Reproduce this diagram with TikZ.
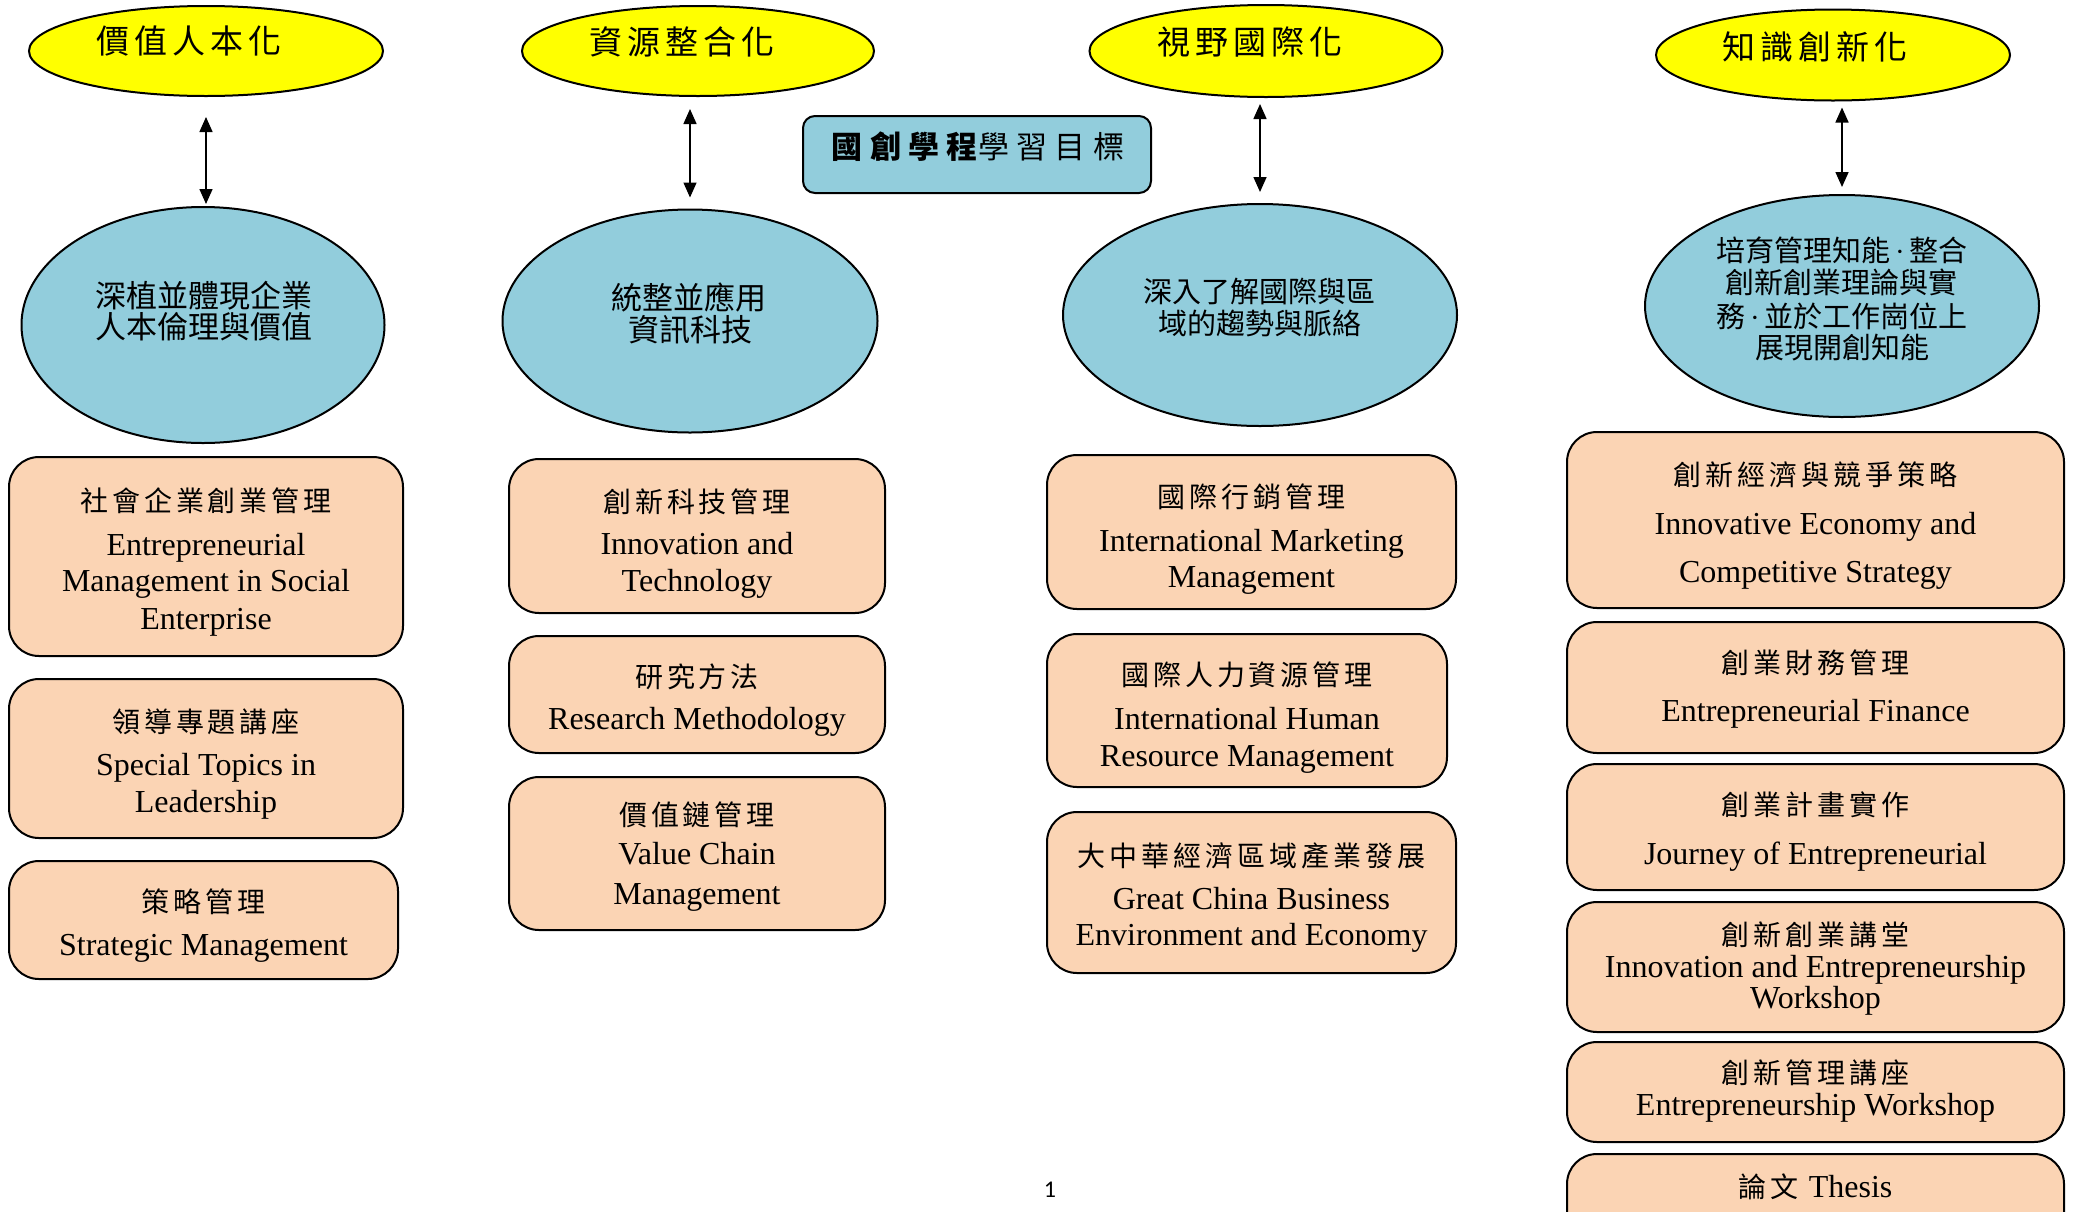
\documentclass[tikz,border=0pt]{standalone}
\usepackage{fontspec}
\setmainfont{Liberation Serif}
\newfontfamily\zhA{Noto Sans CJK TC}[LetterSpace=14]
\newfontfamily\zhB{Noto Sans CJK TC}
\newfontfamily\zhY{Noto Sans CJK TC}[LetterSpace=15]
\newfontfamily\zhT{Noto Sans CJK TC}[LetterSpace=24]
\newfontfamily\pgnum{Carlito}
\usetikzlibrary{shapes.geometric,arrows.meta}
\definecolor{yelc}{HTML}{FFFF00}
\definecolor{bluc}{HTML}{92CDDC}
\definecolor{orac}{HTML}{FBD4B4}
\tikzset{
  every node/.style={inner sep=0pt, outer sep=0pt},
  yel/.style={ellipse, draw, fill=yelc, line width=2pt},
  blu/.style={ellipse, draw, fill=bluc, line width=2pt},
  crs/.style={rectangle, rounded corners=30pt, draw, fill=orac, line width=2pt},
  ttl/.style={rectangle, rounded corners=12pt, draw, fill=bluc, line width=2pt},
  dbl/.style={{Triangle[length=15pt,width=13pt]}-{Triangle[length=15pt,width=13pt]}, line width=1.5pt},
  en/.style={font=\fontsize{32}{36}\selectfont, text height=21pt, text depth=0pt},
  zh/.style={font=\zhA\fontsize{28}{32}\selectfont, text height=23pt, text depth=2pt},
  yt/.style={font=\zhY\fontsize{33}{36}\selectfont, text height=27pt, text depth=2pt},
  bt/.style={font=\zhB\fontsize{31}{34}\selectfont, text height=26pt, text depth=2pt},
  bs/.style={font=\zhB\fontsize{29}{32}\selectfont, text height=24pt, text depth=2pt},
  tt/.style={font=\zhT\fontsize{31}{34}\selectfont, text height=26pt, text depth=2pt},
}
\newcommand{\mdot}{{\rmfamily\,·\,}}
\begin{document}
\begin{tikzpicture}[x=1pt,y=-1pt]
\useasboundingbox (0,0) rectangle (2076,1211);
\clip (0,0) rectangle (2076,1211);
\fill[white] (0,0) rectangle (2076,1211);

% goals (yellow)
\node[yel, minimum width=354pt, minimum height=90pt] (y1) at (206,51) {};
\node[yel, minimum width=352pt, minimum height=90pt] (y2) at (698,51) {};
\node[yel, minimum width=353pt, minimum height=92pt] (y3) at (1266,51) {};
\node[yel, minimum width=354pt, minimum height=91pt] (y4) at (1833,55) {};
\node[yt] (y1t) at (189,41) {價值人本化};
\node[yt] (y2t) at (682,42) {資源整合化};
\node[yt] (y3t) at (1250,42) {視野國際化};
\node[yt] (y4t) at (1815,47) {知識創新化};

% objectives (blue)
\node[blu, minimum width=363pt, minimum height=236pt] (b1) at (203,325) {};
\node[blu, minimum width=375pt, minimum height=223pt] (b2) at (690,321) {};
\node[blu, minimum width=394pt, minimum height=222pt] (b3) at (1260,315) {};
\node[blu, minimum width=394pt, minimum height=222pt] (b4) at (1842,306) {};
\node[bt] (b1a) at (203.5,295) {深植並體現企業};
\node[bt] (b1b) at (203.5,326) {人本倫理與價值};
\node[bt] (b2a) at (689,297) {統整並應用};
\node[bt] (b2b) at (690,329.5) {資訊科技};
\node[bs] (b3a) at (1259,291) {深入了解國際與區};
\node[bs] (b3b) at (1260,323.5) {域的趨勢與脈絡};
\node[bs] (b4a) at (1842,250) {培育管理知能\mdot 整合};
\node[bs] (b4b) at (1841,282.5) {創新創業理論與實};
\node[bs] (b4c) at (1842,316) {務\mdot 並於工作崗位上};
\node[bs] (b4d) at (1842,347) {展現開創知能};

% arrows
\draw[dbl, shorten <=21pt, shorten >=3pt] (y1.south) -- (y1.south |- b1.north);
\draw[dbl, shorten <=13pt, shorten >=12pt] (b2.north |- y2.south) -- (b2.north);
\draw[dbl, shorten <=7pt, shorten >=12pt] (b3.north |- y3.south) -- (b3.north);
\draw[dbl, shorten <=7pt, shorten >=8pt] (b4.north |- y4.south) -- (b4.north);

% title
\node[ttl, minimum width=348pt, minimum height=77pt] (title) at (977,154.5) {};
\node[tt] (titlet) at (978,146) {{\bfseries 國創學程}學習目標};

% column A
\node[crs, minimum width=394pt, minimum height=199pt] (a1) at (206,556.5) {};
\node[zh] (a1a) at (206,501) {社會企業創業管理};
\node[en] (a1b) at (206,545) {Entrepreneurial};
\node[en] (a1c) at (206,581) {Management in Social};
\node[en] (a1d) at (206,619) {Enterprise};
\node[crs, minimum width=394pt, minimum height=159pt] (a2) at (206,758.5) {};
\node[zh] (a2a) at (206,722) {領導專題講座};
\node[en] (a2b) at (206,765) {Special Topics in};
\node[en] (a2c) at (206,802) {Leadership};
\node[crs, minimum width=389pt, minimum height=118pt] (a3) at (203.5,920) {};
\node[zh] (a3a) at (203.5,902) {策略管理};
\node[en] (a3b) at (203.5,945) {Strategic Management};

% column B
\node[crs, minimum width=376pt, minimum height=154pt] (bb1) at (697,536) {};
\node[zh] (bb1a) at (697,502) {創新科技管理};
\node[en] (bb1b) at (697,544) {Innovation and};
\node[en] (bb1c) at (697,581) {Technology};
\node[crs, minimum width=376pt, minimum height=117pt] (bb2) at (697,694.5) {};
\node[zh] (bb2a) at (697,677) {研究方法};
\node[en] (bb2b) at (697,719) {Research Methodology};
\node[crs, minimum width=376pt, minimum height=153pt] (bb3) at (697,853.5) {};
\node[zh] (bb3a) at (697,815) {價值鏈管理};
\node[en] (bb3b) at (697,854) {Value Chain};
\node[en] (bb3c) at (697,893.5) {Management};

% column C
\node[crs, minimum width=409pt, minimum height=154pt] (c1) at (1251.5,532) {};
\node[zh] (c1a) at (1251.5,497) {國際行銷管理};
\node[en] (c1b) at (1251.5,541) {International Marketing};
\node[en] (c1c) at (1251.5,577) {Management};
\node[crs, minimum width=400pt, minimum height=153pt] (c2) at (1247,710.5) {};
\node[zh] (c2a) at (1247,675) {國際人力資源管理};
\node[en] (c2b) at (1247,719) {International Human};
\node[en] (c2c) at (1247,756) {Resource Management};
\node[crs, minimum width=409pt, minimum height=161pt] (c3) at (1251.5,892.5) {};
\node[zh] (c3a) at (1251.5,856) {大中華經濟區域產業發展};
\node[en] (c3b) at (1251.5,899) {Great China Business};
\node[en] (c3c) at (1251.5,935) {Environment and Economy};

% column D
\node[crs, minimum width=497pt, minimum height=176pt] (d1) at (1815.5,520) {};
\node[zh] (d1a) at (1815.5,475) {創新經濟與競爭策略};
\node[en] (d1b) at (1815.5,524) {Innovative Economy and};
\node[en] (d1c) at (1815.5,572) {Competitive Strategy};
\node[crs, minimum width=497pt, minimum height=131pt] (d2) at (1815.5,687.5) {};
\node[zh] (d2a) at (1815.5,663) {創業財務管理};
\node[en] (d2b) at (1815.5,711) {Entrepreneurial Finance};
\node[crs, minimum width=497pt, minimum height=126pt] (d3) at (1815.5,827) {};
\node[zh] (d3a) at (1815.5,805) {創業計畫實作};
\node[en] (d3b) at (1815.5,854) {Journey of Entrepreneurial};
\node[crs, minimum width=497pt, minimum height=130pt] (d4) at (1815.5,967) {};
\node[zh] (d4a) at (1815.5,935) {創新創業講堂};
\node[en] (d4b) at (1815.5,967) {Innovation and Entrepreneurship};
\node[en] (d4c) at (1815.5,998) {Workshop};
\node[crs, minimum width=497pt, minimum height=100pt] (d5) at (1815.5,1092) {};
\node[zh] (d5a) at (1815.5,1073) {創新管理講座};
\node[en] (d5b) at (1815.5,1105) {Entrepreneurship Workshop};
\node[crs, minimum width=497pt, minimum height=110pt] (d6) at (1815.5,1209) {};
\node[zh] (d6a) at (1815.5,1187) {論文 {\rmfamily\fontsize{32}{36}\selectfont Thesis}};

% page number
\node[font=\pgnum\fontsize{24}{28}\selectfont] (pg) at (1050,1190) {1};
\end{tikzpicture}
\end{document}
